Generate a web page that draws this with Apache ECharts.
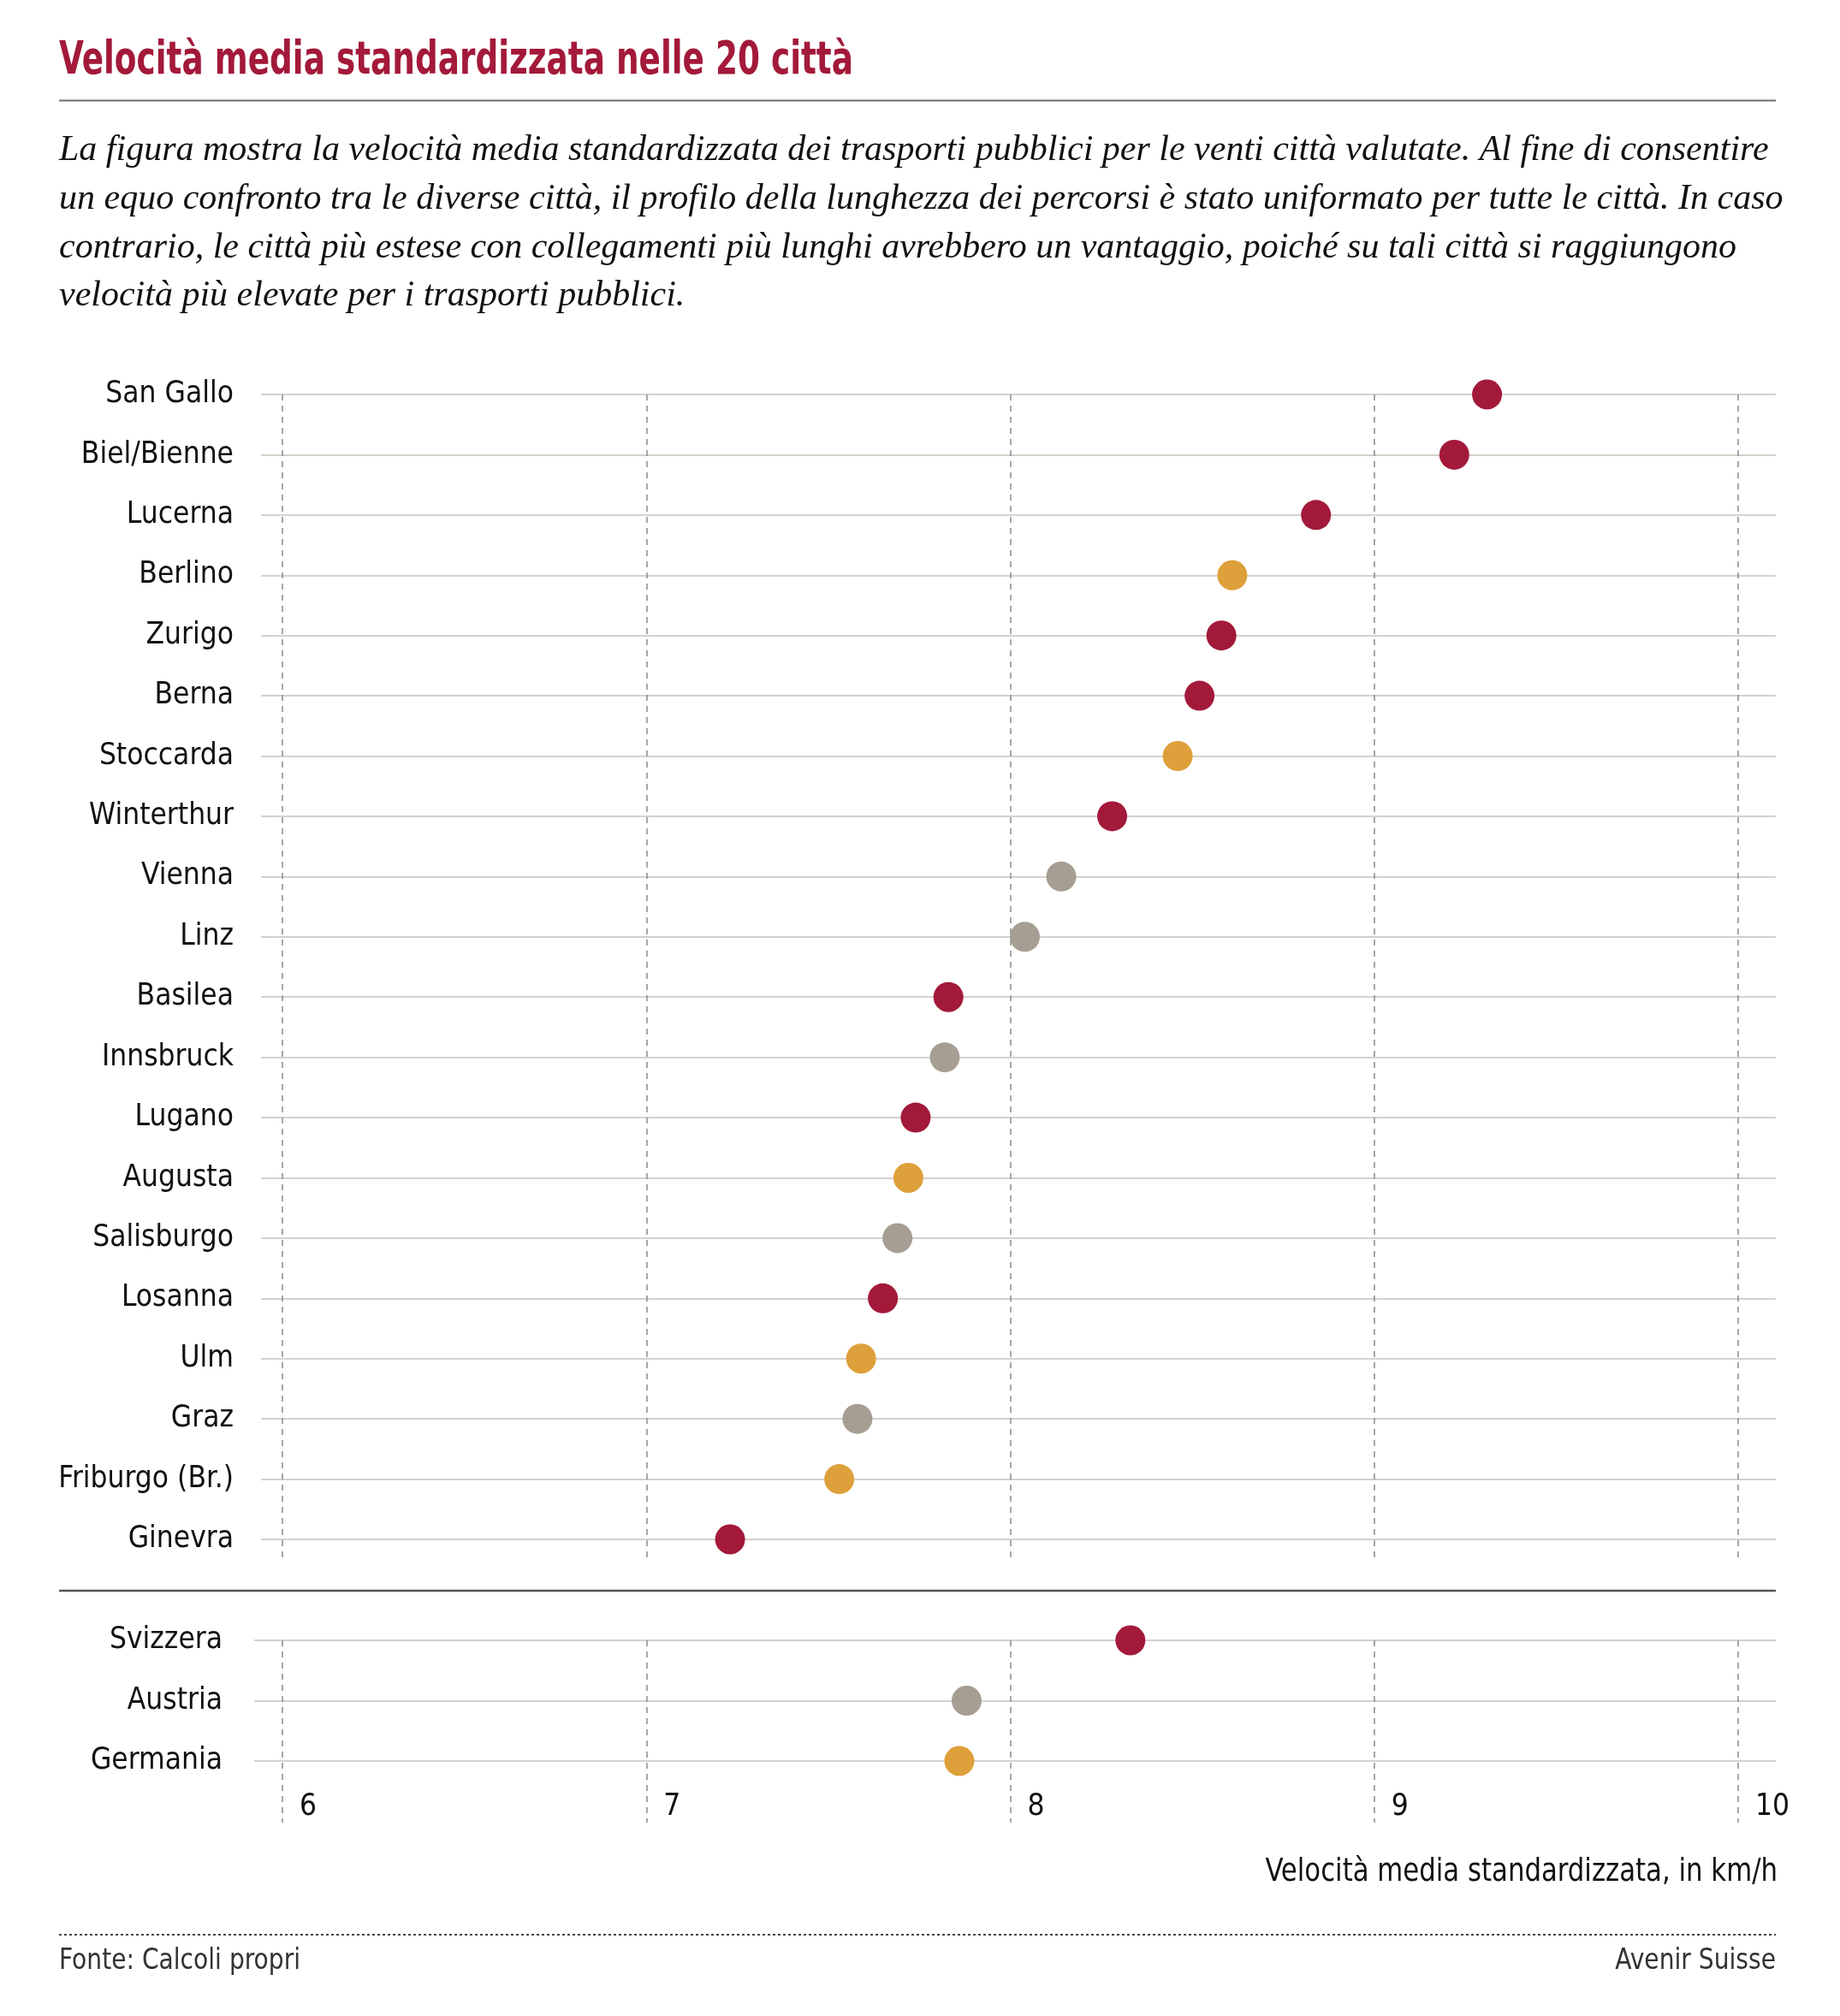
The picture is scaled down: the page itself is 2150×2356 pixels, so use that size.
<!DOCTYPE html>
<html>
<head>
<meta charset="utf-8">
<script src="https://cdn.jsdelivr.net/npm/echarts@6/dist/echarts.min.js"></script>
<style>
  html, body { margin: 0; padding: 0; background: #fff; }
  #main { width: 2150px; height: 2356px; }
</style>
</head>
<body>
<div id="main"></div>
<script>
// cities, top to bottom
var cities = ['San Gallo', 'Biel/Bienne', 'Lucerna', 'Berlino', 'Zurigo', 'Berna', 'Stoccarda',
  'Winterthur', 'Vienna', 'Linz', 'Basilea', 'Innsbruck', 'Lugano', 'Augusta', 'Salisburgo',
  'Losanna', 'Ulm', 'Graz', 'Friburgo (Br.)', 'Ginevra'];
var cityValues = [9.31, 9.22, 8.84, 8.61, 8.58, 8.52, 8.46, 8.28, 8.14, 8.04, 7.83, 7.82, 7.74,
  7.72, 7.69, 7.65, 7.59, 7.58, 7.53, 7.23];
var cityCountry = ['CH', 'CH', 'CH', 'DE', 'CH', 'CH', 'DE', 'CH', 'AT', 'AT', 'CH', 'AT', 'CH',
  'DE', 'AT', 'CH', 'DE', 'AT', 'DE', 'CH'];

var countries = ['Svizzera', 'Austria', 'Germania'];
var countryValues = [8.33, 7.88, 7.86];
var countryCode = ['CH', 'AT', 'DE'];

var xTicks = [6, 7, 8, 9, 10];

var colors = { CH: '#a3193a', AT: '#a69e92', DE: '#dda03a' };

var NARROW = '"Liberation Sans Narrow", "DejaVu Sans Condensed", sans-serif';
var SERIF = '"Liberation Serif", "DejaVu Serif", serif';

var chart = echarts.init(document.getElementById('main'), null, { renderer: 'canvas' });

function points(names, vals, codes) {
  return names.map(function (n, i) {
    return { value: [vals[i], n], itemStyle: { color: colors[codes[i]], opacity: 1 } };
  });
}

var dashed = { show: true, lineStyle: { color: '#8a8a8a', width: 1.5, type: [7, 6] } };
var rowLine = { show: true, lineStyle: { color: '#d6d1cb', width: 2 } };
var hidden = { show: false };

var labelStyle = { color: '#111', fontFamily: NARROW, fontSize: 35 };

chart.setOption({
  animation: false,
  grid: [
    // top block: row lines + labels / dashes / dots
    { left: 305, right: 75, top: 461, height: 1338 },
    { left: 330, right: 119, top: 461, height: 1364 },
    { left: 330, right: 119, top: 461, height: 1338 },
    // bottom block
    { left: 297, right: 75, top: 1917, height: 141 },
    { left: 330, right: 119, top: 1917, height: 213 },
    { left: 330, right: 119, top: 1917, height: 141 }
  ],
  xAxis: [
    { gridIndex: 0, type: 'value', show: false },
    { gridIndex: 1, type: 'value', min: xTicks[0], max: xTicks[xTicks.length - 1], interval: 1,
      axisLine: hidden, axisTick: hidden, axisLabel: hidden, splitLine: dashed },
    { gridIndex: 2, type: 'value', min: xTicks[0], max: xTicks[xTicks.length - 1], show: false },
    { gridIndex: 3, type: 'value', show: false },
    { gridIndex: 4, type: 'value', min: xTicks[0], max: xTicks[xTicks.length - 1], interval: 1,
      axisLine: hidden, axisTick: hidden, splitLine: dashed,
      axisLabel: { show: true, color: '#111', fontFamily: NARROW, fontSize: 35,
        align: 'left', verticalAlign: 'middle', margin: -18, padding: [0, 0, 0, 20] } },
    { gridIndex: 5, type: 'value', min: xTicks[0], max: xTicks[xTicks.length - 1], show: false }
  ],
  yAxis: [
    { gridIndex: 0, type: 'category', data: cities, inverse: true, boundaryGap: false,
      axisLine: hidden, axisTick: hidden, splitLine: rowLine,
      axisLabel: Object.assign({ margin: 32, interval: 0 }, labelStyle) },
    { gridIndex: 1, type: 'value', show: false },
    { gridIndex: 2, type: 'category', data: cities, inverse: true, boundaryGap: false, show: false },
    { gridIndex: 3, type: 'category', data: countries, inverse: true, boundaryGap: false,
      axisLine: hidden, axisTick: hidden, splitLine: rowLine,
      axisLabel: Object.assign({ margin: 37, interval: 0 }, labelStyle) },
    { gridIndex: 4, type: 'value', show: false },
    { gridIndex: 5, type: 'category', data: countries, inverse: true, boundaryGap: false, show: false }
  ],
  series: [
    { type: 'scatter', xAxisIndex: 2, yAxisIndex: 2, symbolSize: 35,
      data: points(cities, cityValues, cityCountry) },
    { type: 'scatter', xAxisIndex: 5, yAxisIndex: 5, symbolSize: 35,
      data: points(countries, countryValues, countryCode) }
  ],
  graphic: [
    { type: 'text', x: 69, y: 72, scaleX: 0.77, style: {
      text: 'Velocità media standardizzata nelle 20 città', verticalAlign: 'middle',
      fill: '#a3193a', font: 'bold 54px ' + NARROW } },
    { type: 'line', shape: { x1: 69, y1: 117.5, x2: 2075, y2: 117.5 },
      style: { stroke: '#6b6b6b', lineWidth: 2 } },
    { type: 'text', left: 69, top: 148, style: {
      text: 'La figura mostra la velocità media standardizzata dei trasporti pubblici per le venti città valutate. Al fine di consentire\n' +
        'un equo confronto tra le diverse città, il profilo della lunghezza dei percorsi è stato uniformato per tutte le città. In caso\n' +
        'contrario, le città più estese con collegamenti più lunghi avrebbero un vantaggio, poiché su tali città si raggiungono\n' +
        'velocità più elevate per i trasporti pubblici.',
      fill: '#111', font: 'italic 42px ' + SERIF, lineHeight: 56.7 } },
    { type: 'line', shape: { x1: 69, y1: 1859, x2: 2075, y2: 1859 },
      style: { stroke: '#555', lineWidth: 2.5 } },
    { type: 'text', x: 2077, y: 2188, scaleX: 0.9, style: {
      text: 'Velocità media standardizzata, in km/h', align: 'right', verticalAlign: 'middle',
      fill: '#111', font: '38px ' + NARROW } },
    { type: 'line', shape: { x1: 69, y1: 2261, x2: 2075, y2: 2261 },
      style: { stroke: '#444', lineWidth: 2, lineDash: [3, 3] } },
    { type: 'text', x: 69, y: 2292, scaleX: 0.92, style: {
      text: 'Fonte: Calcoli propri', verticalAlign: 'middle',
      fill: '#333', font: '34px ' + NARROW } },
    { type: 'text', x: 2075, y: 2292, scaleX: 0.92, style: {
      text: 'Avenir Suisse', align: 'right', verticalAlign: 'middle',
      fill: '#333', font: '34px ' + NARROW } }
  ]
});
</script>
</body>
</html>
